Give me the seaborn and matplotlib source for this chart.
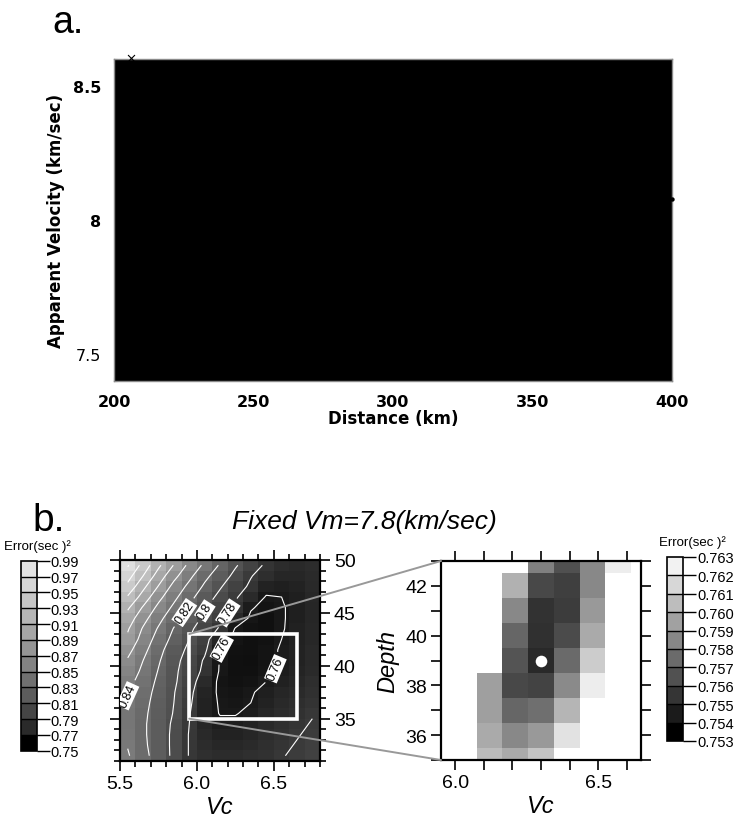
import numpy as np
import matplotlib
matplotlib.use("Agg")
import matplotlib.pyplot as plt
import seaborn as sns
from matplotlib.colors import LinearSegmentedColormap, ListedColormap, BoundaryNorm, PowerNorm
from matplotlib.cm import ScalarMappable
from matplotlib.patches import Rectangle, ConnectionPatch
from matplotlib.ticker import MultipleLocator, FixedLocator

# ---------------- panel a: apparent velocity against distance ----------------
distance_range = [200, 400]
velocity_low = [7.4, 7.4]
velocity_high = [8.6, 8.6]
edge_pick_distance = [206.0]
edge_pick_velocity = [8.605]
end_pick_distance = [400.0]
end_pick_velocity = [8.078]
distance_ticks = [200, 250, 300, 350, 400]
velocity_ticks = [7.5, 8.0, 8.5]
velocity_tick_labels = ["7.5", "8", "8.5"]

# ---------------- panel b: misfit grid (full search) ----------------
vc_centers = [5.55, 5.65, 5.75, 5.85, 5.95, 6.05, 6.15, 6.25, 6.35, 6.45, 6.55, 6.65, 6.75]
depth_centers = [49.5, 48.5, 47.5, 46.5, 45.5, 44.5, 43.5, 42.5, 41.5, 40.5,
                 39.5, 38.5, 37.5, 36.5, 35.5, 34.5, 33.5, 32.5, 31.5]
error_rows = [
    [0.962, 0.933, 0.904, 0.879, 0.855, 0.836, 0.818, 0.802, 0.789, 0.777, 0.771, 0.769, 0.771],
    [0.948, 0.920, 0.891, 0.866, 0.845, 0.825, 0.810, 0.795, 0.781, 0.772, 0.767, 0.767, 0.770],
    [0.935, 0.905, 0.879, 0.854, 0.835, 0.817, 0.802, 0.788, 0.777, 0.765, 0.763, 0.765, 0.769],
    [0.918, 0.892, 0.866, 0.845, 0.826, 0.809, 0.795, 0.782, 0.770, 0.759, 0.760, 0.763, 0.768],
    [0.903, 0.878, 0.855, 0.836, 0.818, 0.802, 0.789, 0.777, 0.761, 0.757, 0.759, 0.763, 0.767],
    [0.891, 0.867, 0.846, 0.827, 0.811, 0.796, 0.784, 0.769, 0.758, 0.755, 0.759, 0.763, 0.767],
    [0.882, 0.858, 0.838, 0.819, 0.804, 0.790, 0.778, 0.759, 0.756, 0.755, 0.759, 0.764, 0.768],
    [0.876, 0.852, 0.832, 0.814, 0.800, 0.786, 0.766, 0.757, 0.755, 0.756, 0.760, 0.764, 0.768],
    [0.866, 0.846, 0.826, 0.809, 0.796, 0.783, 0.760, 0.7555, 0.7553, 0.757, 0.761, 0.765, 0.769],
    [0.858, 0.840, 0.822, 0.806, 0.792, 0.778, 0.759, 0.7552, 0.7548, 0.757, 0.761, 0.765, 0.769],
    [0.852, 0.836, 0.819, 0.804, 0.790, 0.776, 0.7585, 0.7550, 0.7550, 0.7575, 0.762, 0.766, 0.770],
    [0.846, 0.832, 0.816, 0.803, 0.788, 0.770, 0.757, 0.7555, 0.7565, 0.760, 0.764, 0.768, 0.772],
    [0.841, 0.828, 0.814, 0.801, 0.785, 0.766, 0.758, 0.757, 0.759, 0.763, 0.767, 0.770, 0.774],
    [0.838, 0.826, 0.812, 0.800, 0.783, 0.765, 0.759, 0.758, 0.760, 0.765, 0.769, 0.772, 0.776],
    [0.836, 0.824, 0.811, 0.799, 0.781, 0.765, 0.7595, 0.7595, 0.762, 0.767, 0.771, 0.775, 0.779],
    [0.836, 0.823, 0.810, 0.797, 0.780, 0.767, 0.762, 0.762, 0.765, 0.769, 0.773, 0.777, 0.781],
    [0.837, 0.823, 0.810, 0.796, 0.779, 0.769, 0.765, 0.765, 0.767, 0.771, 0.775, 0.779, 0.783],
    [0.839, 0.824, 0.810, 0.796, 0.779, 0.771, 0.768, 0.768, 0.770, 0.773, 0.777, 0.781, 0.785],
    [0.842, 0.826, 0.811, 0.796, 0.779, 0.773, 0.771, 0.771, 0.773, 0.775, 0.779, 0.783, 0.787],
]
contour_levels = [0.76, 0.78, 0.80, 0.82, 0.84, 0.86, 0.88, 0.90, 0.92, 0.94, 0.96, 0.98]
full_bounds = [0.75, 0.77, 0.79, 0.81, 0.83, 0.85, 0.87, 0.89, 0.91, 0.93, 0.95, 0.97, 0.99]
full_tick_labels = ["0.75", "0.77", "0.79", "0.81", "0.83", "0.85", "0.87",
                    "0.89", "0.91", "0.93", "0.95", "0.97", "0.99"]

# ---------------- panel b: refined grid around the minimum ----------------
zoom_vc = [5.94, 6.03, 6.12, 6.21, 6.30, 6.39, 6.48, 6.57, 6.66]
zoom_depth = [35, 36, 37, 38, 39, 40, 41, 42, 43]
zoom_rows = [
    [0.782, 0.766, 0.7607, 0.7600, 0.7611, 0.7640, 0.768, 0.772, 0.776],
    [0.783, 0.765, 0.7600, 0.7586, 0.7593, 0.7623, 0.766, 0.770, 0.774],
    [0.785, 0.766, 0.7596, 0.7572, 0.7576, 0.7605, 0.7640, 0.768, 0.772],
    [0.787, 0.769, 0.7596, 0.7560, 0.7558, 0.7587, 0.7628, 0.766, 0.770],
    [0.789, 0.774, 0.7640, 0.7565, 0.7547, 0.7574, 0.7614, 0.7650, 0.768],
    [0.791, 0.777, 0.7660, 0.7572, 0.7550, 0.7561, 0.7600, 0.7640, 0.767],
    [0.795, 0.781, 0.7680, 0.7586, 0.7551, 0.7555, 0.7593, 0.7635, 0.766],
    [0.799, 0.785, 0.7720, 0.7603, 0.7560, 0.7556, 0.7586, 0.7632, 0.765],
    [0.803, 0.789, 0.7760, 0.7650, 0.7583, 0.7563, 0.7586, 0.7628, 0.766],
]
best_vc = [6.30]
best_depth = [39.0]
zoom_bounds = [0.753, 0.754, 0.755, 0.756, 0.757, 0.758, 0.759, 0.760, 0.761, 0.762, 0.763]
zoom_tick_labels = ["0.753", "0.754", "0.755", "0.756", "0.757", "0.758",
                    "0.759", "0.760", "0.761", "0.762", "0.763"]
zoom_box = (5.95, 6.65, 35.0, 43.0)

# ---------------- style ----------------
sns.set_theme(style="ticks")
plt.rcParams["font.family"] = ["Liberation Sans", "DejaVu Sans"]
plt.rcParams["axes.linewidth"] = 1.6
for key in ("text.color", "axes.labelcolor", "xtick.color", "ytick.color", "axes.edgecolor"):
    plt.rcParams[key] = "black"

fig = plt.figure(figsize=(7.46, 8.29), dpi=100)

# ===== panel a =====
ax_a = fig.add_axes([0.1528, 0.5392, 0.748, 0.3884])
ax_a.fill_between(distance_range, velocity_low, velocity_high, color="black", lw=0)
sns.scatterplot(x=edge_pick_distance, y=edge_pick_velocity, ax=ax_a, marker="x",
                color="black", s=25, linewidth=0.8, clip_on=False, zorder=5)
sns.scatterplot(x=end_pick_distance, y=end_pick_velocity, ax=ax_a, marker="o",
                color="black", s=10, linewidth=0, clip_on=False, zorder=5)
ax_a.set_xlim(200, 400)
ax_a.set_ylim(7.4, 8.6)
ax_a.set_xticks(distance_ticks)
ax_a.set_xticklabels([str(d) for d in distance_ticks])
ax_a.set_yticks(velocity_ticks)
ax_a.set_yticklabels(velocity_tick_labels)
ax_a.xaxis.set_minor_locator(MultipleLocator(10))
ax_a.yaxis.set_minor_locator(MultipleLocator(0.1))
ax_a.tick_params(which="both", direction="in", top=True, right=True, color="#777777",
                 width=0.8, labelsize=11.5, pad=9)
ax_a.tick_params(which="major", length=3)
ax_a.tick_params(which="minor", length=2)
for sp in ax_a.spines.values():
    sp.set_color("#8a8a8a")
    sp.set_linewidth(1.0)
for lab in ax_a.get_xticklabels() + ax_a.get_yticklabels():
    lab.set_family("DejaVu Sans")
    lab.set_fontweight("bold")
ax_a.get_yticklabels()[0].set_fontweight("normal")
ax_a.set_xlabel("Distance (km)", family="DejaVu Sans", fontweight="bold", fontsize=12, labelpad=0)
ax_a.set_ylabel("Apparent Velocity (km/sec)", family="DejaVu Sans", fontweight="bold",
                fontsize=12, labelpad=6)
fig.text(0.070, 0.960, "a.", fontsize=27, va="baseline")

# ===== panel b: full grid =====
full_cmap = LinearSegmentedColormap.from_list("err_full", ["#000000", "#f2f2f2"])
full_cmap.set_over("white")
full_norm = PowerNorm(gamma=0.7, vmin=full_bounds[0], vmax=full_bounds[-1])
err = np.array(error_rows)
ax_l = fig.add_axes([0.1609, 0.0808, 0.2681, 0.2425])
ax_l.pcolormesh(vc_centers, depth_centers, err, shading="nearest", cmap=full_cmap,
                norm=full_norm, rasterized=True)
cs = ax_l.contour(vc_centers, depth_centers, err, levels=contour_levels,
                  colors="white", linewidths=0.8)
labels = ax_l.clabel(cs, inline=True, fontsize=9, colors="black",
                     fmt=lambda v: f"{v:.2f}".rstrip("0"),
                     manual=[(5.90, 45.2), (6.05, 45.2), (6.21, 44.9),
                             (5.56, 37.0), (6.18, 41.4), (6.49, 39.8)])
for t in labels:
    t.set_bbox(dict(facecolor="white", edgecolor="none", pad=0.6))
x0, x1, y0, y1 = zoom_box
ax_l.add_patch(Rectangle((x0, y0), x1 - x0, y1 - y0, fill=False, ec="white", lw=2.6, zorder=6))
ax_l.set_xlim(5.5, 6.8)
ax_l.set_ylim(31, 50)
ax_l.set_xticks([5.5, 6.0, 6.5])
ax_l.set_xticklabels(["5.5", "6.0", "6.5"])
ax_l.set_yticks([35, 40, 45, 50])
ax_l.xaxis.set_minor_locator(MultipleLocator(0.1))
ax_l.yaxis.set_minor_locator(MultipleLocator(1))
ax_l.tick_params(which="both", direction="out", top=True, bottom=True, left=True, right=True,
                 labelleft=False, labelright=True, labelsize=14, color="black", width=1.2, pad=3)
ax_l.tick_params(which="major", length=7)
ax_l.tick_params(which="minor", length=4)
ax_l.set_xlabel("Vc", fontsize=17, style="italic", labelpad=2)

# colorbar for the full grid
cax_l = fig.add_axes([0.0277, 0.0932, 0.0214, 0.2292])
full_colors = full_cmap(full_norm(np.array(full_bounds[:-1])))
cb_l = fig.colorbar(ScalarMappable(norm=BoundaryNorm(full_bounds, len(full_bounds) - 1),
                                   cmap=ListedColormap(full_colors)),
                    cax=cax_l, ticks=full_bounds, drawedges=True)
cb_l.ax.set_yticklabels(full_tick_labels)
cb_l.ax.tick_params(length=9, width=1.0, labelsize=10.5, pad=1, color="black")
cb_l.outline.set_linewidth(1.2)
cb_l.dividers.set_color("black")
cb_l.dividers.set_linewidth(1.0)
fig.text(0.006, 0.341, "Error(sec )²", fontsize=9.5, va="center")

# ===== panel b: refined grid =====
zoom_cmap = LinearSegmentedColormap.from_list("err_zoom", ["#000000", "#f2f2f2"])
zoom_cmap.set_over("white")
ax_r = fig.add_axes([0.5912, 0.0820, 0.2681, 0.2401])
ax_r.pcolormesh(zoom_vc, zoom_depth, np.array(zoom_rows), shading="nearest", cmap=zoom_cmap,
                vmin=zoom_bounds[0], vmax=zoom_bounds[-1], rasterized=True)
sns.scatterplot(x=best_vc, y=best_depth, ax=ax_r, color="white", s=70, linewidth=0, zorder=5)
ax_r.set_xlim(x0, x1)
ax_r.set_ylim(y0, y1)
ax_r.set_xticks([6.0, 6.5])
ax_r.set_xticklabels(["6.0", "6.5"])
ax_r.set_yticks([36, 38, 40, 42])
ax_r.xaxis.set_minor_locator(FixedLocator([6.1, 6.2, 6.3, 6.4, 6.6]))
ax_r.yaxis.set_minor_locator(FixedLocator([35, 37, 39, 41, 43]))
ax_r.tick_params(which="both", direction="out", top=True, bottom=True, left=True, right=True,
                 labelsize=14, color="black", width=1.2, length=7, pad=3)
ax_r.set_xlabel("Vc", fontsize=17, style="italic", labelpad=2)
ax_r.set_ylabel("Depth", fontsize=17, style="italic", labelpad=4)

cax_r = fig.add_axes([0.8937, 0.1050, 0.0219, 0.2220])
zoom_colors = zoom_cmap(np.linspace(0, 1, len(zoom_bounds) - 1))
cb_r = fig.colorbar(ScalarMappable(norm=BoundaryNorm(zoom_bounds, len(zoom_bounds) - 1),
                                   cmap=ListedColormap(zoom_colors)),
                    cax=cax_r, ticks=zoom_bounds, drawedges=True)
cb_r.ax.set_yticklabels(zoom_tick_labels)
cb_r.ax.tick_params(length=9, width=1.0, labelsize=10.5, pad=1, color="black")
cb_r.outline.set_linewidth(1.2)
cb_r.dividers.set_color("black")
cb_r.dividers.set_linewidth(1.0)
fig.text(0.884, 0.345, "Error(sec )²", fontsize=9.5, va="center")

# guide lines from the box to the refined panel
for yc in (y1, y0):
    con = ConnectionPatch(xyA=(x0, yc), coordsA=ax_l.transData,
                          xyB=(x0, yc), coordsB=ax_r.transData,
                          color="#999999", lw=1.4, zorder=10)
    fig.add_artist(con)

fig.text(0.488, 0.370, "Fixed Vm=7.8(km/sec)", ha="center", va="center",
         fontsize=19, style="italic")
fig.text(0.043, 0.359, "b.", fontsize=28, va="baseline")

fig.savefig("out.png", dpi=100)
